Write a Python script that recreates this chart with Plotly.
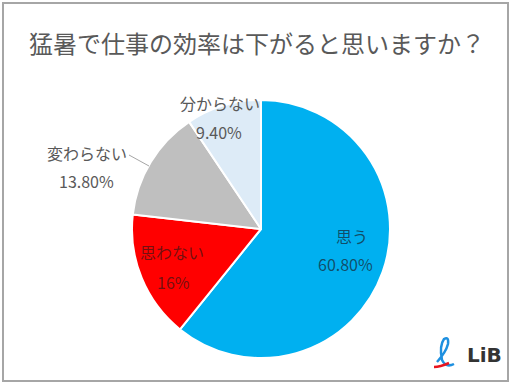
import plotly.graph_objects as go

labels = ["思う", "思わない", "変わらない", "分からない"]
values = [60.8, 16.0, 13.8, 9.4]
pct_text = ["60.80%", "16%", "13.80%", "9.40%"]
colors = ["#00B0F0", "#FF0000", "#BFBFBF", "#DDEBF7"]
title = "猛暑で仕事の効率は下がると思いますか？"

W, H = 512, 384
FONT = "Noto Sans CJK JP"

def px(x):
    return x / W

def py(y):
    return 1 - y / H

CX, CY, R = 261, 229, 129

fig = go.Figure(go.Pie(
    labels=labels, values=values, sort=False, direction="clockwise", rotation=0,
    marker=dict(colors=colors, line=dict(color="white", width=2)),
    textinfo="none", hoverinfo="label+percent", showlegend=False,
    domain=dict(x=[px(CX - R), px(CX + R)], y=[py(CY + R), py(CY - R)]),
))

# label positions (text placement only)
label_pos = [((352, 236), (345, 264)), ((172, 252), (173, 282)),
             ((87, 153), (86, 181)), ((220, 103), (219, 132))]
label_colors = ["rgba(20,60,80,0.85)", "rgba(90,20,20,0.85)", "#595959", "#595959"]
ann = []
for i, ((lp, pp), c) in enumerate(zip(label_pos, label_colors)):
    ann.append(dict(x=px(lp[0]), y=py(lp[1]), xref="paper", yref="paper", text=labels[i],
                    xanchor="center", yanchor="middle",
                    showarrow=False, font=dict(family=FONT, size=16, color=c)))
    ann.append(dict(x=px(pp[0]), y=py(pp[1]), xref="paper", yref="paper", text=pct_text[i],
                    xanchor="center", yanchor="middle",
                    showarrow=False, font=dict(family=FONT, size=16, color=c)))

ann.append(dict(x=px(257), y=py(43), xref="paper", yref="paper", text=title, showarrow=False,
                xanchor="center", yanchor="middle",
                font=dict(family=FONT, size=24, color="#595959")))
ann.append(dict(x=px(484), y=py(355), xref="paper", yref="paper", text="<b>LiB</b>", showarrow=False,
                xanchor="center", yanchor="middle",
                font=dict(family="DejaVu Sans", size=20, color="#333333")))

shapes = [
    dict(type="rect", xref="paper", yref="paper", x0=px(3), x1=px(508), y0=py(381), y1=py(3),
         line=dict(color="#A6A6A6", width=2)),
    dict(type="line", xref="paper", yref="paper", x0=px(129), y0=py(155), x1=px(149), y1=py(166),
         line=dict(color="#A6A6A6", width=1)),
    # logo mark
    dict(type="path", xref="paper", yref="paper",
         path=f"M {px(437)},{py(362)} Q {px(446)},{py(352)} {px(448)},{py(344)} Q {px(449)},{py(336)} {px(444)},{py(339)} Q {px(439)},{py(346)} {px(442)},{py(360)} Q {px(446)},{py(368)} {px(454)},{py(364)}",
         line=dict(color="#1E90E0", width=2.5)),
    dict(type="path", xref="paper", yref="paper",
         path=f"M {px(434)},{py(367)} Q {px(440)},{py(367)} {px(449)},{py(363)}",
         line=dict(color="#E8141E", width=2.5)),
]

fig.update_layout(width=W, height=H, margin=dict(l=0, r=0, t=0, b=0),
                  paper_bgcolor="white", plot_bgcolor="white",
                  annotations=ann, shapes=shapes)
fig.write_html("out.html", config={"displayModeBar": False},
               post_script="document.body.style.margin='0';document.body.style.overflow='hidden';")
